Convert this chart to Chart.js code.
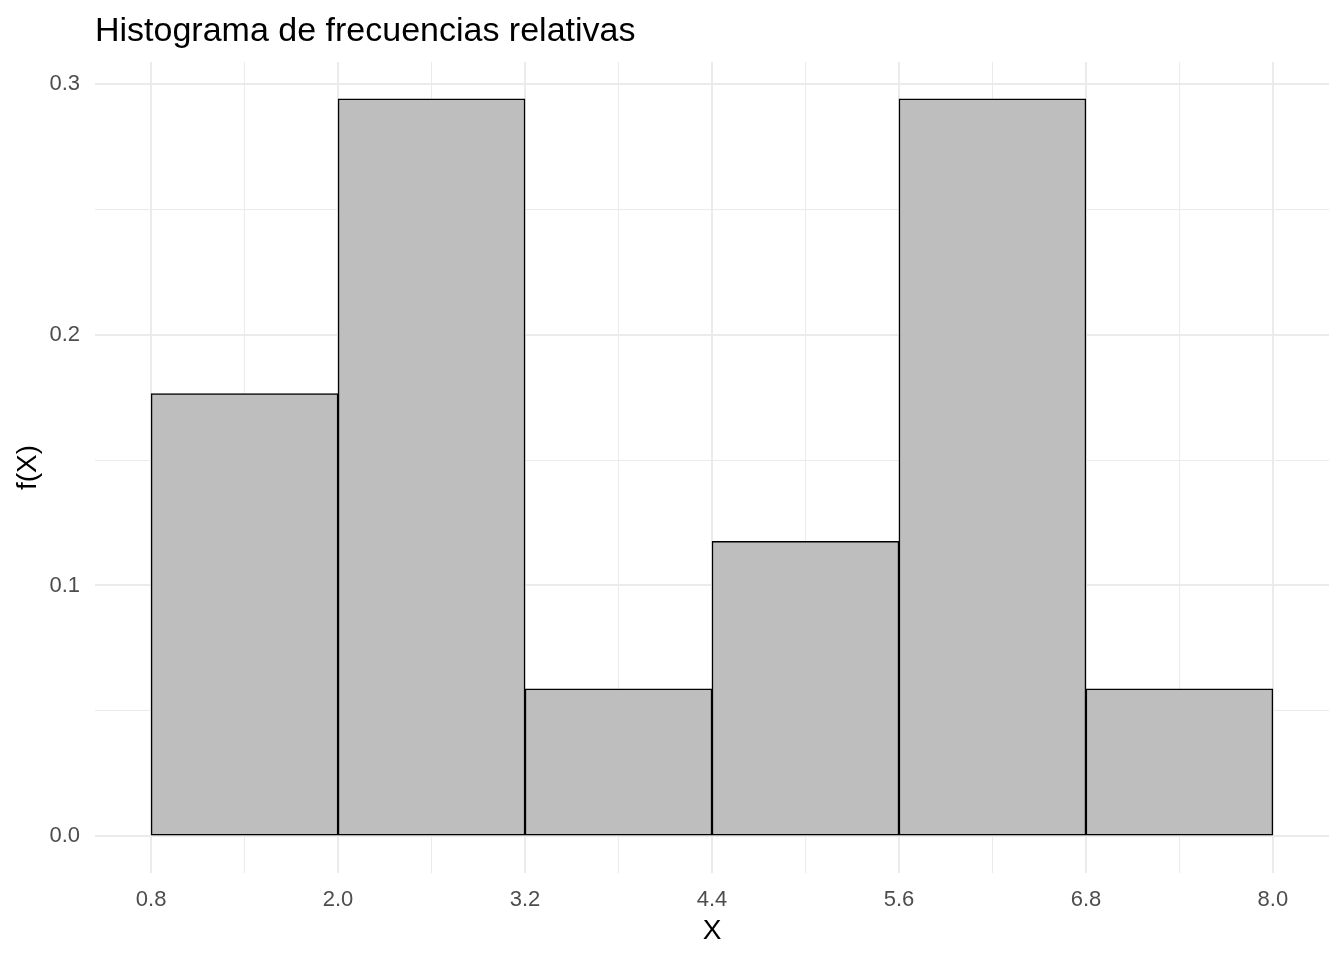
<!DOCTYPE html>
<html>
<head>
<meta charset="utf-8">
<script src="https://cdn.jsdelivr.net/npm/chart.js@4"></script>
<style>
  body { margin: 0; background: #fff; }
  canvas { display: block; }
</style>
</head>
<body>
<canvas id="myChart" width="1344" height="960"></canvas>
<script>
// datos del histograma
const titleText = "Histograma de frecuencias relativas";
const binCenters = [1.4, 2.6, 3.8, 5.0, 6.2, 7.4];
const relFreq = [0.1765, 0.2941, 0.0588, 0.1176, 0.2941, 0.0588];
const xMajor = [0.8, 2.0, 3.2, 4.4, 5.6, 6.8, 8.0];
const xMinor = [1.4, 2.6, 3.8, 5.0, 6.2, 7.4];
const yTicks = [0, 0.05, 0.1, 0.15, 0.2, 0.25, 0.3];
const yMajor = [0, 0.1, 0.2, 0.3];

const isMajor = (list, v) => list.some(m => Math.abs(m - v) < 1e-6);
const gridWidth = list => c => (c.tick && isMajor(list, c.tick.value)) ? 2 : 1;
const fontFam = "'Liberation Sans', Arial, sans-serif";

const titlePlugin = {
    id: "ggTitle",
    afterDraw(chart) {
        const ctx = chart.ctx;
        ctx.save();
        ctx.font = "34px " + fontFam;
        ctx.fillStyle = "#000";
        ctx.textAlign = "left";
        ctx.textBaseline = "alphabetic";
        ctx.fillText(titleText, chart.chartArea.left, 41);
        ctx.restore();
    }
};

const ctx = document.getElementById("myChart");
const chart = new Chart(ctx, {
    type: "bar",
    data: {
        datasets: [{
            data: binCenters.map((x, i) => ({ x: x, y: relFreq[i] })),
            backgroundColor: "#bebebe",
            borderColor: "#000",
            borderWidth: 1.5,
            borderSkipped: false,
            barPercentage: 1,
            categoryPercentage: 1,
            xAxisID: "x"
        }]
    },
    options: {
        responsive: false,
        animation: false,
        layout: { padding: { top: 62, right: 15, bottom: 0, left: 0 } },
        plugins: {
            legend: { display: false },
            tooltip: { enabled: false }
        },
        scales: {
            // eje solo para la rejilla menor
            xMinor: {
                type: "linear",
                position: "bottom",
                min: 0.44,
                max: 8.36,
                offset: false,
                afterBuildTicks: axis => { axis.ticks = xMinor.map(v => ({ value: v })); },
                afterFit: axis => { axis.height = 0; },
                ticks: { display: false },
                grid: { drawTicks: false, offset: false, color: "#ebebeb", lineWidth: 1 },
                border: { display: false }
            },
            x: {
                type: "linear",
                min: 0.44,
                max: 8.36,
                offset: false,
                afterBuildTicks: axis => { axis.ticks = xMajor.map(v => ({ value: v })); },
                afterFit: axis => { axis.height = 87; },
                ticks: {
                    autoSkip: false,
                    maxRotation: 0,
                    padding: 14,
                    color: "#4d4d4d",
                    font: { size: 22, family: fontFam },
                    callback: v => v.toFixed(1)
                },
                grid: {
                    drawTicks: false,
                    offset: false,
                    color: "#ebebeb",
                    lineWidth: 2
                },
                border: { display: false },
                title: {
                    display: true,
                    text: "X",
                    color: "#000",
                    font: { size: 28, family: fontFam },
                    padding: { top: 0, bottom: 12 }
                }
            },
            y: {
                min: -0.0147,
                max: 0.3088,
                afterBuildTicks: axis => { axis.ticks = yTicks.map(v => ({ value: v })); },
                afterFit: axis => { axis.width = 95; },
                ticks: {
                    autoSkip: false,
                    padding: 15,
                    color: "#4d4d4d",
                    font: { size: 22, family: fontFam },
                    callback: v => isMajor(yMajor, v) ? v.toFixed(1) : ""
                },
                grid: {
                    drawTicks: false,
                    color: "#ebebeb",
                    lineWidth: gridWidth(yMajor)
                },
                border: { display: false },
                title: {
                    display: true,
                    text: "f(X)",
                    color: "#000",
                    font: { size: 28, family: fontFam },
                    padding: { top: 11, bottom: 0 }
                }
            }
        }
    },
    plugins: [titlePlugin]
});
</script>
</body>
</html>
